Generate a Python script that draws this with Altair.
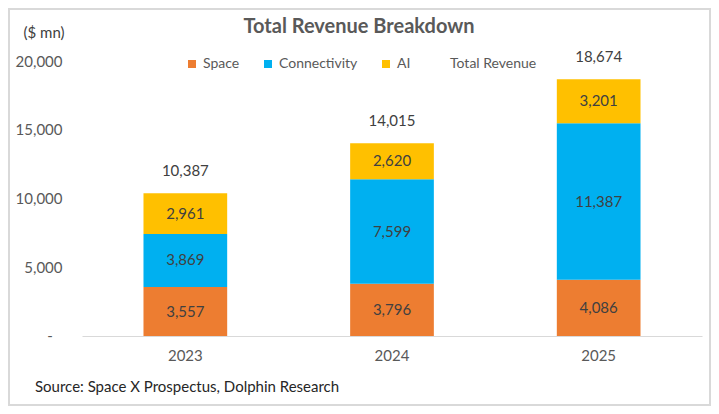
import altair as alt
import pandas as pd

years = ["2023", "2024", "2025"]
space = [3557, 3796, 4086]
connectivity = [3869, 7599, 11387]
ai = [2961, 2620, 3201]
total = [10387, 14015, 18674]
series_names = ["Space", "Connectivity", "AI"]
series_colors = ["#ED7D31", "#00B0F0", "#FFC000"]
y_ticks = [0, 5000, 10000, 15000, 20000]

FONT = "Lato"

rows = []
for i, y in enumerate(years):
    base = 0
    for k, (name, vals) in enumerate(zip(series_names, [space, connectivity, ai])):
        v = vals[i]
        rows.append({"year": y, "series": name, "value": v, "order": k, "mid": base + v / 2})
        base += v
df = pd.DataFrame(rows)
tot_df = pd.DataFrame({"year": years, "total": total})
zero_df = pd.DataFrame({"v": [y_ticks[0]]})

xscale = alt.Scale(domain=years, paddingInner=0.595, paddingOuter=0.2975)
yscale = alt.Scale(domain=[0, 20000], nice=False)

bars = alt.Chart(df).mark_bar().encode(
    x=alt.X("year:N", scale=xscale, sort=years,
            axis=alt.Axis(title=None, labelAngle=0, ticks=False, domainColor="#d9d9d9",
                          domainWidth=1, labelFont=FONT, labelFontSize=15, labelColor="#595959",
                          labelPadding=12, grid=False)),
    y=alt.Y("value:Q", stack="zero", scale=yscale,
            axis=alt.Axis(title=None, values=y_ticks, domain=False, ticks=False, grid=False,
                          labelFont=FONT, labelFontSize=15, labelColor="#595959", labelPadding=20,
                          labelExpr="datum.value == 0 ? '' : format(datum.value, ',')")),
    color=alt.Color("series:N",
                    scale=alt.Scale(domain=series_names + ["Total Revenue"],
                                    range=series_colors + ["transparent"]),
                    legend=alt.Legend(title=None, orient="none", legendX=103, legendY=-4,
                                      direction="horizontal", symbolType="square", symbolSize=64,
                                      symbolStrokeWidth=0, labelFont=FONT, labelFontSize=14,
                                      labelColor="#595959", labelOffset=4, columnPadding=21)),
    order=alt.Order("order:Q", sort="ascending"),
)

zero_label = alt.Chart(zero_df).mark_text(text="-", font=FONT, fontSize=15, color="#595959",
                                          align="center", baseline="middle", clip=False).encode(
    x=alt.value(-32), y=alt.Y("v:Q", scale=yscale))

seg_labels = alt.Chart(df).mark_text(font=FONT, fontSize=15, color="#404040", baseline="middle").encode(
    x=alt.X("year:N", scale=xscale, sort=years),
    y=alt.Y("mid:Q", stack=None, scale=yscale),
    text=alt.Text("value:Q", format=","),
)

tot_labels = alt.Chart(tot_df).mark_text(font=FONT, fontSize=15, color="#404040", baseline="middle", dy=-22).encode(
    x=alt.X("year:N", scale=xscale, sort=years),
    y=alt.Y("total:Q", scale=yscale),
    text=alt.Text("total:Q", format=","),
)

one = alt.Data(values=[{}])
title = alt.Chart(one).mark_text(font=FONT, fontSize=20, fontWeight="bold", color="#595959",
                                 align="center", baseline="middle").encode(
    x=alt.value(277), y=alt.value(-34), text=alt.value("Total Revenue Breakdown"))
unit = alt.Chart(one).mark_text(font=FONT, fontSize=15, color="#404040",
                                align="center", baseline="middle").encode(
    x=alt.value(-38), y=alt.value(-28), text=alt.value("($ mn)"))
source = alt.Chart(one).mark_text(font=FONT, fontSize=15, color="#262626",
                                  align="left", baseline="middle").encode(
    x=alt.value(-47), y=alt.value(326), text=alt.value("Source: Space X Prospectus, Dolphin Research"))
border = alt.Chart(one).mark_rect(fill=None, stroke="#d9d9d9", strokeWidth=2, clip=False).encode(
    x=alt.value(-73), x2=alt.value(628), y=alt.value(-52), y2=alt.value(344))

chart = alt.layer(bars, zero_label, seg_labels, tot_labels, title, unit, source, border).properties(
    width=620, height=275,
    autosize=alt.AutoSizeParams(type="none"),
    padding={"left": 74, "top": 53, "right": 9, "bottom": 70},
    background="white",
).configure_view(stroke=None)

chart.save("out.html", embed_options={"renderer": "svg", "actions": False})
